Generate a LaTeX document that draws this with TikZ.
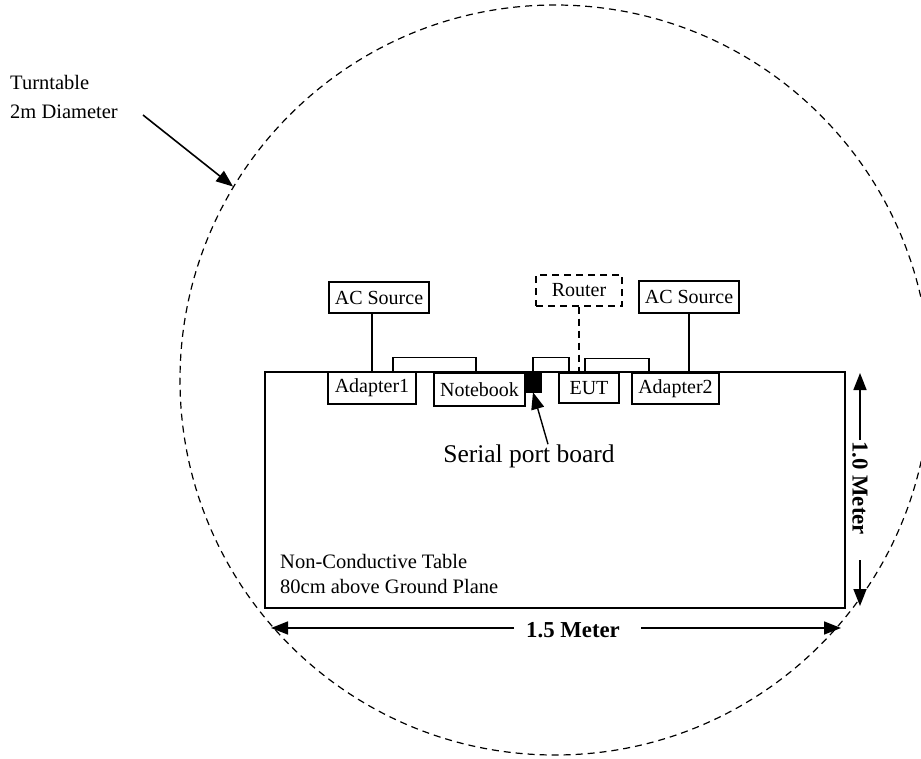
\documentclass[tikz,border=0pt]{standalone}
\usepackage{fontspec}
\setmainfont{Liberation Serif}
\usetikzlibrary{arrows.meta,calc}
\begin{document}
\begin{tikzpicture}[x=1pt,y=-1pt,
  box/.style={draw, line width=1.2pt, fill=white, inner sep=0pt, font=\fontsize{20}{22}\selectfont},
  conn/.style={line width=1.2pt},
  dsh/.style={dash pattern=on 7pt off 5pt},
  arr/.style={line width=1.6pt, -{Triangle[length=17pt,width=13pt]}},
  dim/.style={font=\fontsize{22.8}{26}\selectfont\bfseries, inner sep=0pt},
  lbl/.style={font=\fontsize{20.5}{29}\selectfont, inner sep=0pt, align=left}]
\useasboundingbox (0,0) rectangle (921,758);
% turntable
\node[circle, draw, line width=1.2pt, dsh, minimum size=750pt, inner sep=0pt] (turn) at (555,380) {};
% table
\node[draw, line width=2.5pt, minimum width=580pt, minimum height=236pt, inner sep=0pt] (table) at (555,490) {};
% boxes
\node[box, minimum width=100pt, minimum height=31pt] (ac1) at (379,297.5) {AC Source};
\node[box, minimum width=100pt, minimum height=32pt] (ac2) at (689,297) {AC Source};
\node[box, dsh, minimum width=86pt, minimum height=31pt] (router) at (579,290.5) {Router};
\node[box, minimum width=88pt, minimum height=32pt] (ad1) at (372,388) {Adapter1};
\node[box, minimum width=91pt, minimum height=33pt] (nb) at (479.5,389.5) {Notebook};
\node[draw, fill=black, minimum width=16pt, minimum height=20pt, inner sep=0pt] (sp) at (533,382) {};
\node[box, minimum width=60pt, minimum height=30pt] (eut) at (589,388) {EUT};
\node[box, minimum width=87pt, minimum height=31pt] (ad2) at (675.5,388.5) {Adapter2};
% connectors
\draw[conn] (ad1.north) -- (ad1.north |- ac1.south);
\draw[conn] (ac2.south) -- (ac2.south |- ad2.north);
\draw[conn, dsh] (router.south) -- (router.south |- eut.north);
\draw[conn] ($(ad1.north)+(21,0)$) -- ++(0,-14) -| ($(nb.north)+(-3.5,0)$);
\draw[conn] (sp.north) -- ++(0,-14) -| ($(eut.north)+(-20,0)$);
\draw[conn] ($(eut.north)+(-4,0)$) -- ++(0,-14) -| ($(ad2.north)+(-26.5,0)$);
% serial port label
\node[inner sep=0pt, font=\fontsize{25.5}{30}\selectfont] (splab) at (529,456) {Serial port board};
\draw[arr, line width=1.4pt] ($(splab.north)+(19,0)$) -- (sp.south);
% turntable label
\node[lbl, anchor=base west] (ttl) at (10,118) {Turntable\\2m Diameter};
\coordinate (ttail) at (143,115);
\draw[arr] (ttail) -- (turn.149);
% table label
\node[font=\fontsize{20.5}{25}\selectfont, inner sep=0pt, align=left, anchor=base west] (tlab) at (280,593) {Non-Conductive Table\\80cm above Ground Plane};
% vertical dimension
\node[dim, rotate=-90] (vlab) at (860,488) {1.0 Meter};
\coordinate (vt) at (860,373);
\coordinate (vb) at (860,606);
\coordinate (vt0) at (860,440);
\coordinate (vb0) at (860,560);
\draw[arr] (vt0) -- (vt);
\draw[arr] (vb0) -- (vb);
% horizontal dimension
\node[dim] (hlab) at (573,630) {1.5 Meter};
\coordinate (hl) at (271,628);
\coordinate (hr) at (841,628);
\coordinate (hl0) at (514,628);
\coordinate (hr0) at (641,628);
\draw[arr] (hl0) -- (hl);
\draw[arr] (hr0) -- (hr);
\end{tikzpicture}
\end{document}
